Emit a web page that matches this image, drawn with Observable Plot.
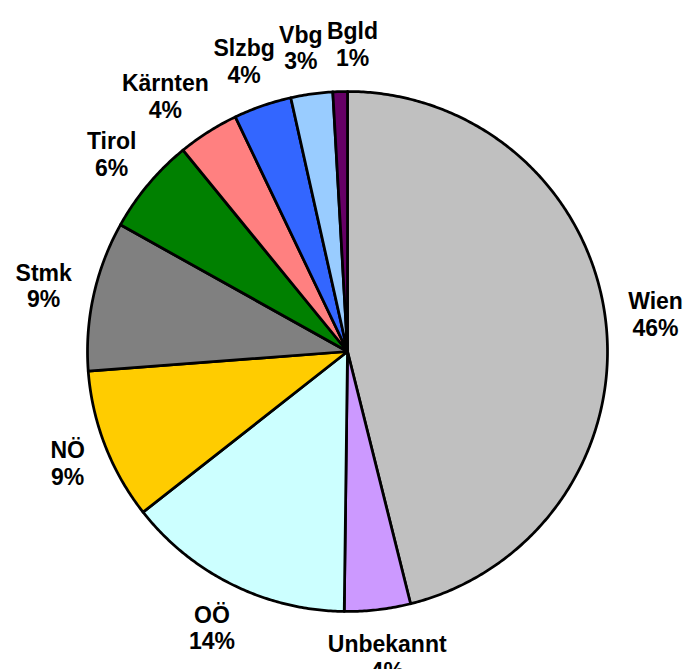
<!DOCTYPE html>
<html><head><meta charset="utf-8">
<script src="https://cdn.jsdelivr.net/npm/d3@7"></script>
<script src="https://cdn.jsdelivr.net/npm/@observablehq/plot@0.6"></script>
<style>body{margin:0;background:#fff}</style>
</head><body><div id="chart"></div>
<script>
// Data
const regions = ["Wien","Unbekannt","OÖ","NÖ","Stmk","Tirol","Kärnten","Slzbg","Vbg","Bgld"];
const shares  = [46.1, 4.1, 14.2, 9.4, 9.3, 6.0, 3.8, 3.6, 2.6, 0.9];
const colors  = ["#C0C0C0","#CC99FF","#CCFFFF","#FFCC00","#808080","#008000","#FF8080","#3366FF","#99CCFF","#660066"];

// Layout
const W = 684, H = 669, cx = 347, cy = 351, R = 260;
const fs = 23, lh = 1.16, fam = '"Liberation Sans", Arial, sans-serif';

const total = d3.sum(shares);
let acc = 0;
const slices = regions.map((r, i) => {
  const a0 = acc / total * 2 * Math.PI;
  acc += shares[i];
  const a1 = acc / total * 2 * Math.PI;
  return {region: r, share: shares[i], a0, a1};
});

const pts = [];
for (const s of slices) {
  pts.push({region: s.region, x: 0, y: 0});
  const n = Math.max(2, Math.ceil((s.a1 - s.a0) / (Math.PI / 360)));
  for (let k = 0; k <= n; k++) {
    const a = s.a0 + (s.a1 - s.a0) * k / n;
    pts.push({region: s.region, x: R * Math.sin(a), y: R * Math.cos(a)});
  }
}

// Label placement: outside end, box touching a ray at R+gap, then spread overlapping labels
const ctx = document.createElement("canvas").getContext("2d");
ctx.font = `bold ${fs}px ${fam}`;
const gap = 23, hBox = fs * 2.15, hHit = fs * (lh + 0.85), pad = 4;
const labels = slices.map(s => {
  const t1 = s.region, t2 = Math.round(s.share) + "%";
  const w = Math.max(ctx.measureText(t1).width, ctx.measureText(t2).width);
  return {text: t1 + "\n" + t2, w, ang: (s.a0 + s.a1) / 2};
});
function place(l) {
  const sx = Math.sin(l.ang), sy = Math.cos(l.ang), d = R + gap;
  l.x = d * sx + sx * l.w / 2;
  l.y = d * sy + sy * hBox / 2;
}
function overlap(a, b) {
  return Math.abs(a.x - b.x) < (a.w + b.w) / 2 + pad && Math.abs(a.y - b.y) < hHit;
}
labels.forEach(place);
const step = 0.15 * Math.PI / 180;
for (let it = 0; it < 400; it++) {
  let moved = false;
  for (let i = 0; i < labels.length; i++) {
    const a = labels[i], b = labels[(i + 1) % labels.length];
    if (overlap(a, b)) { a.ang -= step; b.ang += step; place(a); place(b); moved = true; }
  }
  if (!moved) break;
}

const chart = Plot.plot({
  width: W, height: H, margin: 0,
  x: {domain: [-cx, W - cx], axis: null},
  y: {domain: [-(H - cy), cy], axis: null},
  color: {domain: regions, range: colors},
  style: {background: "#fff"},
  marks: [
    Plot.line(pts, {x: "x", y: "y", z: "region", fill: "region", stroke: "black",
      strokeWidth: 2.75, strokeLinejoin: "round", curve: "linear-closed"}),
    Plot.text(labels, {x: "x", y: "y", text: "text", fontSize: fs, fontWeight: "bold",
      fontFamily: fam, lineHeight: lh, fill: "black"})
  ]
});
document.getElementById("chart").appendChild(chart);
</script>
</body></html>
